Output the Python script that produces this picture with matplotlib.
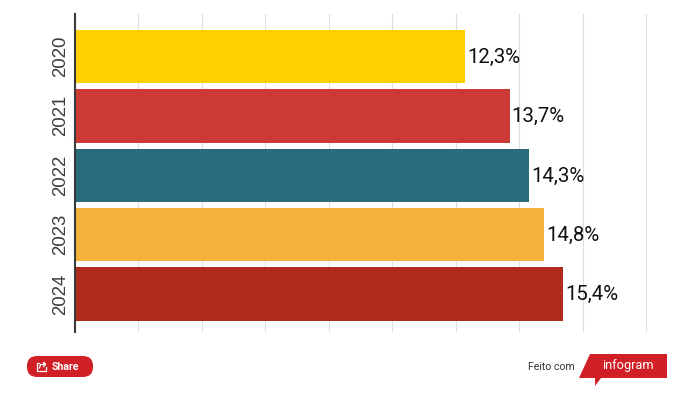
import matplotlib
matplotlib.use("Agg")
import matplotlib.pyplot as plt
from matplotlib.patches import FancyBboxPatch, Polygon
from matplotlib.lines import Line2D
from matplotlib.transforms import Affine2D

years = ["2020", "2021", "2022", "2023", "2024"]
values = [12.3, 13.7, 14.3, 14.8, 15.4]
labels = ["12,3%", "13,7%", "14,3%", "14,8%", "15,4%"]
colors = ["#FFD000", "#CC3A36", "#2A6B7C", "#F3B23A", "#B02B1E"]
grid_ticks = [0, 2, 4, 6, 8, 10, 12, 14, 16, 18]

W, H = 693, 393
fig = plt.figure(figsize=(W / 100, H / 100), dpi=100, facecolor="white")
ax = fig.add_axes([75 / W, 1 - 332 / H, (18.1 * 31.72) / W, (332 - 14) / H])
ax.set_xlim(0, 18.1)
ax.set_ylim(4.64, -0.715)
ax.set_axisbelow(True)
ax.grid(axis="x", color="#DEDEDE", lw=0.8)
ax.set_xticks(grid_ticks)
ax.tick_params(axis="x", length=0, labelbottom=False)
ax.tick_params(axis="y", length=0, pad=4.5)
ax.barh(range(len(years)), values, height=0.9, color=colors)
ax.set_yticks(range(len(years)))
ax.set_yticklabels(years, rotation=90, va="center", fontsize=13.4,
                   family="Liberation Sans", color="#3C3C3C")
for s in ["top", "right", "bottom"]:
    ax.spines[s].set_visible(False)
ax.spines["left"].set_color("#3A3A3A")
ax.spines["left"].set_linewidth(1.5)
for i, (v, t) in enumerate(zip(values, labels)):
    ax.annotate(t, (v, i), xytext=(1.6, -0.6), textcoords="offset points",
                va="center", ha="left", fontsize=14.7, family="Roboto", color="#111111")


def P(x, y):
    return (x / W, 1 - y / H)


red = "#D11F26"
fig.add_artist(FancyBboxPatch((27, H - 377), 66, 21, boxstyle="round,pad=0,rounding_size=10",
                              transform=Affine2D().scale(1 / W, 1 / H) + fig.transFigure,
                              facecolor=red, edgecolor="none"))
icon = [(39, 363), (36.5, 363), (36.5, 370.5), (45.5, 370.5), (45.5, 367)]
fig.add_artist(Line2D([P(*p)[0] for p in icon], [P(*p)[1] for p in icon],
                      color="white", lw=0.9, transform=fig.transFigure))
arrow = [(39.5, 368), (40.5, 364.5), (45.5, 364.5), (43.5, 362.5), (45.5, 364.5), (43.5, 366.5)]
fig.add_artist(Line2D([P(*p)[0] for p in arrow], [P(*p)[1] for p in arrow],
                      color="white", lw=0.9, transform=fig.transFigure))
fig.text(*P(51.5, 366.5), "Share", color="white", fontsize=7.6, fontweight="bold",
         family="Roboto", va="center", ha="left")

fig.text(*P(528, 366.5), "Feito com", color="#333333", fontsize=7.6,
         family="Roboto", va="center", ha="left")
fig.add_artist(Polygon([P(590, 354), P(667, 354), P(667, 378), P(601, 378),
                        P(595, 386), P(595, 378), P(579, 378)],
                       closed=True, facecolor=red, edgecolor="none",
                       transform=fig.transFigure))
fig.text(*P(602, 366), "infogram", color="white", fontsize=9.2,
         family="Roboto", va="center", ha="left")

fig.savefig("out.png", dpi=100, facecolor="white")
